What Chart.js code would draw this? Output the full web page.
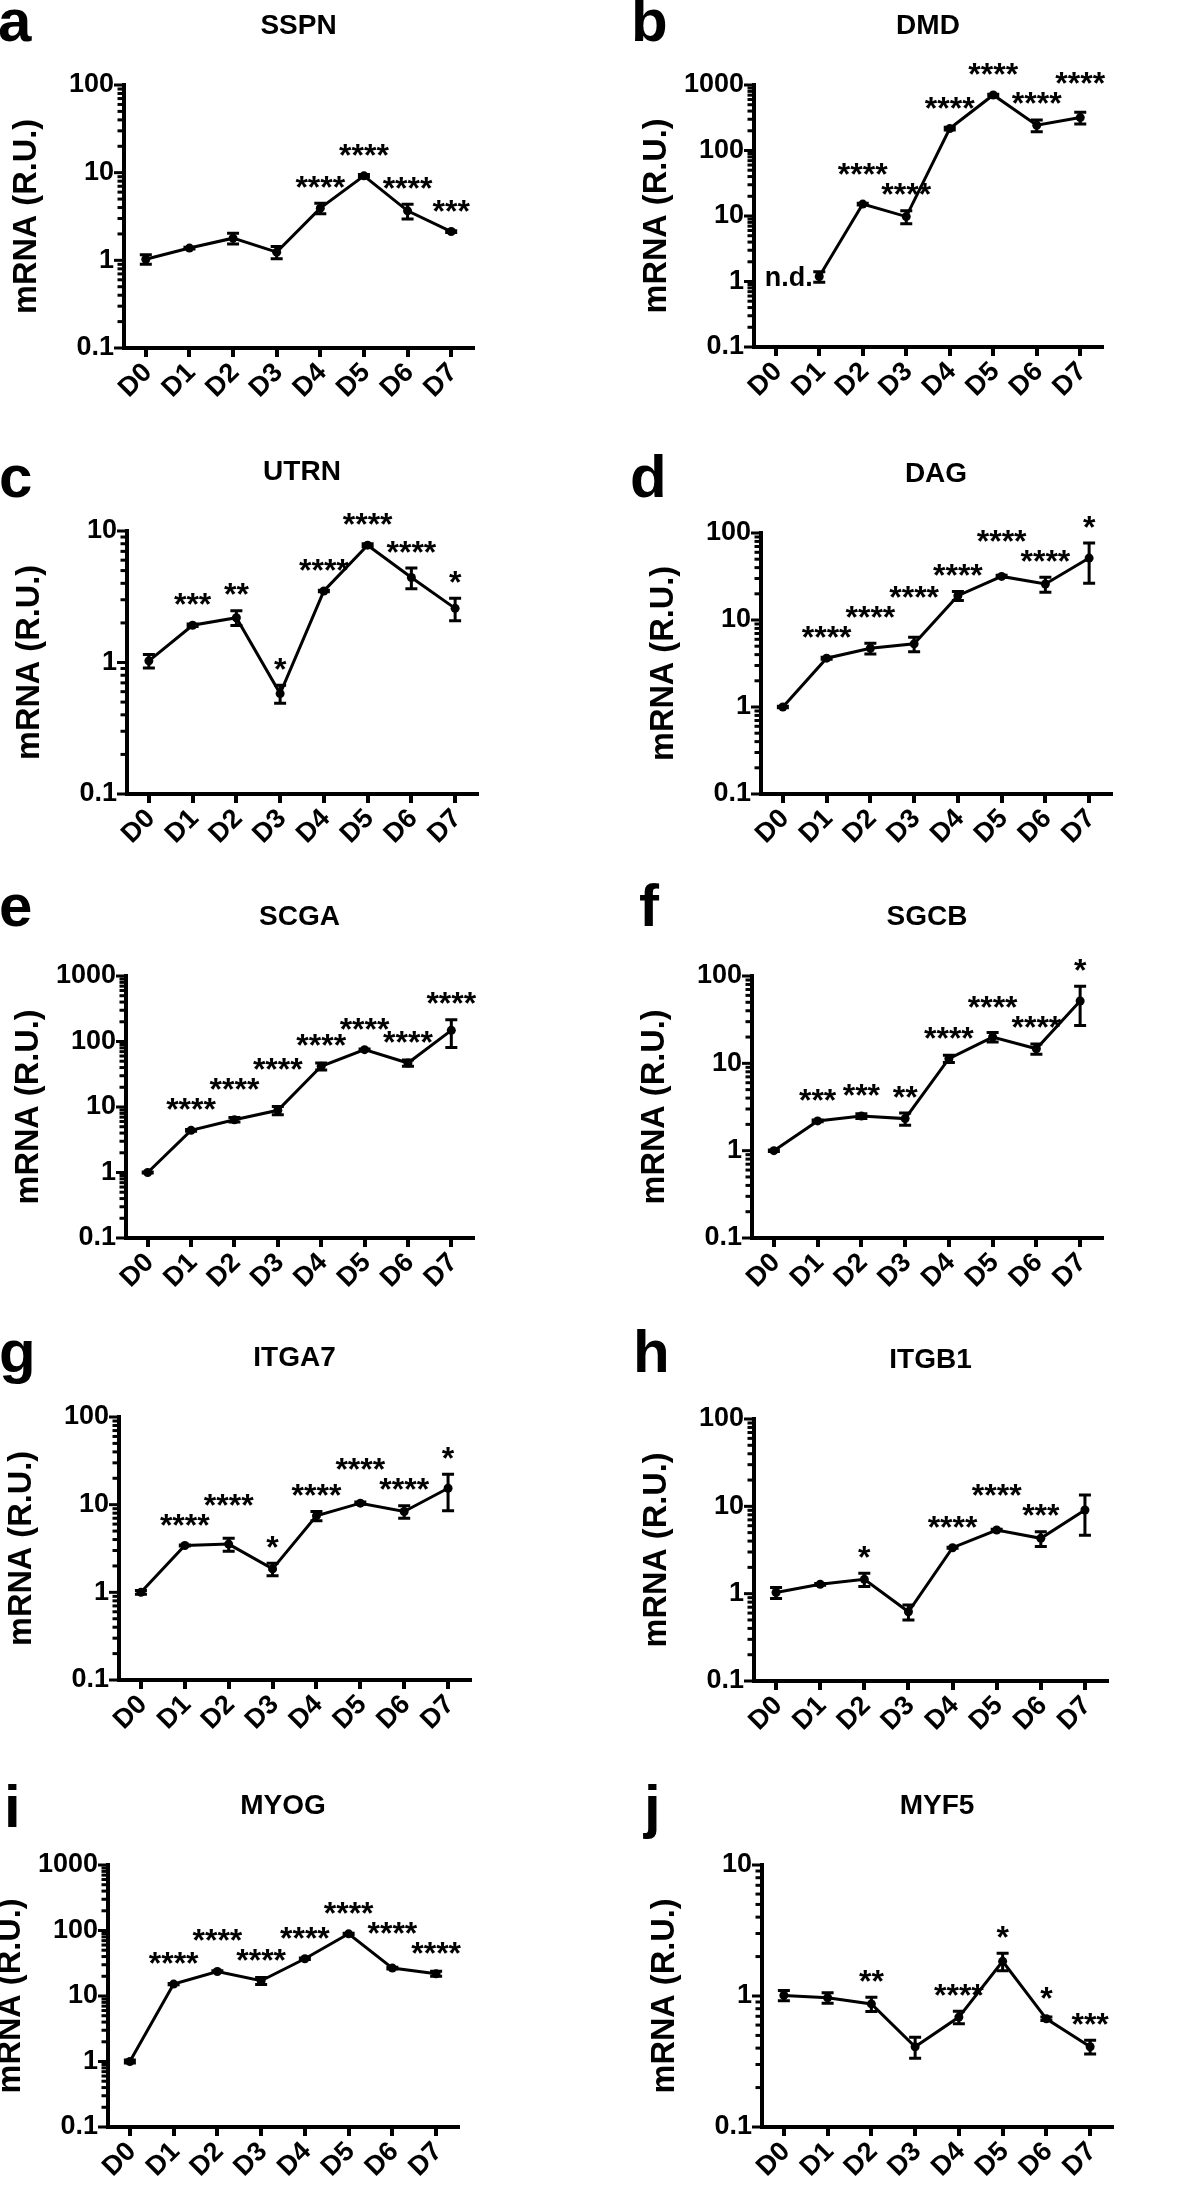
<!DOCTYPE html>
<html>
<head>
<meta charset="utf-8">
<script src="https://cdn.jsdelivr.net/npm/chart.js@4.4.1/dist/chart.umd.min.js"></script>
<style>
html, body { margin: 0; padding: 0; background: #fff; overflow: hidden; }
#fig { position: relative; width: 1181px; height: 2188px; background: #fff; }
#fig canvas { position: absolute; }
.plabel { position: absolute; font: bold 60px "Liberation Sans", Arial, sans-serif; line-height: 60px; color: #000; z-index: 5; }
</style>
</head>
<body>
<div id="fig"></div>
<script>
// ---------------- data ----------------
const days = ['D0', 'D1', 'D2', 'D3', 'D4', 'D5', 'D6', 'D7'];
const yTickLabels = ['0.1', '1', '10', '100', '1000'];

const sspnMean = [1.03, 1.38, 1.79, 1.24, 3.94, 9.2, 3.67, 2.13];
const sspnSem  = [0.13, 0.03, 0.25, 0.2, 0.55, 0.3, 0.7, 0.05];
const sspnSig  = ['', '', '', '', '****', '****', '****', '***'];

const dmdMean = [null, 1.19, 15.2, 9.8, 216, 704, 243, 318];
const dmdSem  = [0, 0.22, 0.5, 2.2, 10, 20, 50, 65];
const dmdSig  = ['', '', '****', '****', '****', '****', '****', '****'];

const utrnMean = [1.03, 1.92, 2.19, 0.58, 3.5, 7.8, 4.43, 2.58];
const utrnSem  = [0.12, 0.04, 0.28, 0.09, 0.05, 0.2, 0.8, 0.5];
const utrnSig  = ['', '***', '**', '*', '****', '****', '****', '*'];

const dagMean = [1.0, 3.64, 4.74, 5.32, 19.0, 31.7, 25.9, 51.5];
const dagSem  = [0.02, 0.1, 0.68, 1.0, 2.3, 1.0, 5.0, 25];
const dagSig  = ['', '****', '****', '****', '****', '****', '****', '*'];

const scgaMean = [1.0, 4.4, 6.4, 8.9, 41.8, 75, 47, 148];
const scgaSem  = [0.02, 0.15, 0.5, 1.3, 5, 2, 5, 67];
const scgaSig  = ['', '****', '****', '****', '****', '****', '****', '****'];

const sgcbMean = [1.0, 2.19, 2.49, 2.33, 11.3, 20, 14.7, 51.7];
const sgcbSem  = [0.02, 0.05, 0.15, 0.37, 1.1, 2.5, 2.0, 24.5];
const sgcbSig  = ['', '***', '***', '**', '****', '****', '****', '*'];

const itga7Mean = [1.0, 3.42, 3.55, 1.85, 7.46, 10.4, 8.36, 15.4];
const itga7Sem  = [0.05, 0.05, 0.6, 0.3, 0.9, 0.3, 1.35, 6.9];
const itga7Sig  = ['', '****', '****', '*', '****', '****', '****', '*'];

const itgb1Mean = [1.03, 1.28, 1.46, 0.62, 3.36, 5.36, 4.3, 9.08];
const itgb1Sem  = [0.15, 0.03, 0.25, 0.12, 0.05, 0.1, 0.83, 4.4];
const itgb1Sig  = ['', '', '*', '', '****', '****', '***', ''];

const myogMean = [1.0, 15.2, 23.7, 17.1, 37, 89, 26.7, 21.9];
const myogSem  = [0.05, 0.3, 0.5, 2.1, 1, 2, 0.8, 1.9];
const myogSig  = ['', '****', '****', '****', '****', '****', '****', '****'];

const myf5Mean = [1.01, 0.97, 0.87, 0.41, 0.69, 1.84, 0.67, 0.41];
const myf5Sem  = [0.09, 0.09, 0.11, 0.075, 0.075, 0.28, 0.02, 0.05];
const myf5Sig  = ['', '', '**', '', '****', '*', '*', '***'];

// ---------------- layout ----------------
const FONT = '"Liberation Sans", Arial, Helvetica, sans-serif';
const panels = [
  { letter: 'a', gene: 'SSPN',  mean: sspnMean,  sem: sspnSem,  sig: sspnSig,  yMax: 100,  col: 0, plot: [124, 473, 85, 348],  base: 42,   lx: -2 },
  { letter: 'b', gene: 'DMD',   mean: dmdMean,   sem: dmdSem,   sig: dmdSig,   yMax: 1000, col: 1, plot: [754, 1102, 85, 347], base: 42,   lx: 631, nd: true },
  { letter: 'c', gene: 'UTRN',  mean: utrnMean,  sem: utrnSem,  sig: utrnSig,  yMax: 10,   col: 0, plot: [127, 477, 531, 794], base: 498,  lx: -1 },
  { letter: 'd', gene: 'DAG',   mean: dagMean,   sem: dagSem,   sig: dagSig,   yMax: 100,  col: 1, plot: [761, 1111, 533, 794], base: 498, lx: 630 },
  { letter: 'e', gene: 'SCGA',  mean: scgaMean,  sem: scgaSem,  sig: scgaSig,  yMax: 1000, col: 0, plot: [126, 473, 976, 1238], base: 927, lx: -1 },
  { letter: 'f', gene: 'SGCB',  mean: sgcbMean,  sem: sgcbSem,  sig: sgcbSig,  yMax: 100,  col: 1, plot: [752, 1102, 976, 1238], base: 927, lx: 639 },
  { letter: 'g', gene: 'ITGA7', mean: itga7Mean, sem: itga7Sem, sig: itga7Sig, yMax: 100,  col: 0, plot: [119, 470, 1417, 1680], base: 1373, lx: -1 },
  { letter: 'h', gene: 'ITGB1', mean: itgb1Mean, sem: itgb1Sem, sig: itgb1Sig, yMax: 100,  col: 1, plot: [754, 1107, 1419, 1681], base: 1373, lx: 633 },
  { letter: 'i', gene: 'MYOG',  mean: myogMean,  sem: myogSem,  sig: myogSig,  yMax: 1000, col: 0, plot: [108, 458, 1865, 2127], base: 1828, lx: 4 },
  { letter: 'j', gene: 'MYF5',  mean: myf5Mean,  sem: myf5Sem,  sig: myf5Sig,  yMax: 10,   col: 1, plot: [762, 1112, 1865, 2127], base: 1828, lx: 644 }
];

function logTicks(max) {
  const out = [];
  for (let e = -1; Math.pow(10, e) < max - 1e-9; e++) {
    for (let k = 1; k <= 9; k++) out.push(Number((k * Math.pow(10, e)).toPrecision(6)));
  }
  out.push(max);
  return out;
}

const STAR_SIZE = 32;
const STAR_MIN_GAP = 12.5;   // min vertical separation of neighbouring star labels
const STAR_LIFT = 20;        // lift applied when they would collide

function starsOverlapX(a, b) {
  return Math.abs(a.x - b.x) < (a.w + b.w) / 2 + 1;
}

const annotPlugin = {
  id: 'annot',
  beforeDatasetsDraw(chart) {
    const p = chart.canvas._panel;
    const ctx = chart.ctx, xs = chart.scales.x, ys = chart.scales.y;
    ctx.save();
    ctx.strokeStyle = '#000';
    ctx.lineWidth = 3;
    p.mean.forEach((m, i) => {
      if (m == null || !p.sem[i]) return;
      const e = p.sem[i];
      const x = xs.getPixelForValue(i);
      const yt = ys.getPixelForValue(m + e);
      const yb = ys.getPixelForValue(Math.max(m - e, 0.1001));
      ctx.beginPath();
      ctx.moveTo(x, yt); ctx.lineTo(x, yb);
      ctx.moveTo(x - 6, yt); ctx.lineTo(x + 6, yt);
      ctx.moveTo(x - 6, yb); ctx.lineTo(x + 6, yb);
      ctx.stroke();
    });
    ctx.restore();
  },
  afterDraw(chart) {
    const p = chart.canvas._panel;
    const ctx = chart.ctx, xs = chart.scales.x, ys = chart.scales.y;
    const L = chart.chartArea.left;
    ctx.save();
    // y-axis log tick marks (major longer than minor)
    ctx.strokeStyle = '#000';
    ctx.lineWidth = 3;
    ys.ticks.forEach(t => {
      const lg = Math.log10(t.value);
      const major = Math.abs(lg - Math.round(lg)) < 1e-6;
      const y = ys.getPixelForValue(t.value);
      ctx.beginPath();
      ctx.moveTo(L, y);
      ctx.lineTo(L - (major ? 10 : 6.5), y);
      ctx.stroke();
    });
    // significance stars above the point / error bar
    ctx.fillStyle = '#000';
    ctx.font = 'bold ' + STAR_SIZE + 'px ' + FONT;
    ctx.textAlign = 'center';
    ctx.textBaseline = 'alphabetic';
    const items = [];
    p.sig.forEach((s, i) => {
      if (!s || p.mean[i] == null) return;
      const m = p.mean[i];
      const x = xs.getPixelForValue(i);
      const yPt = ys.getPixelForValue(m) - 4.5;
      const yErr = ys.getPixelForValue(m + (p.sem[i] || 0));
      items.push({ s, x, w: ctx.measureText(s).width, cy: Math.min(yPt, yErr) - 24, lifted: false });
    });
    // resolve collisions between neighbouring labels
    for (let k = 1; k < items.length; k++) {
      const a = items[k - 1], b = items[k];
      if (!starsOverlapX(a, b) || Math.abs(a.cy - b.cy) >= STAR_MIN_GAP) continue;
      let liftLeft = false;
      if (b.cy > a.cy && !a.lifted) {
        const cand = b.cy - STAR_LIFT;
        const z = items[k - 2];
        liftLeft = !(z && starsOverlapX(z, a) && Math.abs(z.cy - cand) < STAR_MIN_GAP);
        if (liftLeft) { a.cy = cand; a.lifted = true; }
      }
      if (!liftLeft) { b.cy = Math.min(b.cy, a.cy - STAR_LIFT); b.lifted = true; }
    }
    items.forEach(it => ctx.fillText(it.s, it.x, it.cy + 0.58 * STAR_SIZE));
    // not detected label
    if (p.nd) {
      ctx.font = 'bold 27px ' + FONT;
      ctx.textBaseline = 'middle';
      ctx.fillText('n.d.', xs.getPixelForValue(0) + 13, ys.getPixelForValue(1) - 3);
    }
    ctx.restore();
  }
};

const fig = document.getElementById('fig');

panels.forEach(p => {
  const colLeft = p.col ? 590 : 0;
  const colW = p.col ? 591 : 590;
  const [L, R, T, B] = p.plot;
  const top = T - 85;
  const xH = 62;
  const h = 85 + (B - T) + xH;

  const canvas = document.createElement('canvas');
  canvas.width = colW;
  canvas.height = h;
  canvas.style.left = colLeft + 'px';
  canvas.style.top = top + 'px';
  canvas.style.width = colW + 'px';
  canvas.style.height = h + 'px';
  canvas._panel = p;
  fig.appendChild(canvas);

  const lab = document.createElement('div');
  lab.className = 'plabel';
  lab.textContent = p.letter;
  lab.style.left = p.lx + 'px';
  lab.style.top = (p.base - 51) + 'px';
  fig.appendChild(lab);

  const ticksList = logTicks(p.yMax);
  const yTitleFont = 32.5;

  new Chart(canvas, {
    type: 'line',
    data: {
      labels: days,
      datasets: [{
        label: p.gene,
        data: p.mean,
        borderColor: '#000',
        backgroundColor: '#000',
        borderWidth: 3,
        pointRadius: 4.5,
        pointBackgroundColor: '#000',
        pointBorderColor: '#000',
        pointBorderWidth: 0,
        tension: 0,
        clip: false
      }]
    },
    options: {
      responsive: false,
      maintainAspectRatio: false,
      animation: false,
      devicePixelRatio: 1,
      layout: { padding: { left: 0, right: colLeft + colW - R, top: 0, bottom: 0 } },
      plugins: {
        legend: { display: false },
        tooltip: { enabled: false },
        title: {
          display: true,
          text: p.gene,
          fullSize: false,
          color: '#000',
          font: { family: FONT, size: 28, weight: 'bold', lineHeight: 1.2 },
          padding: { top: 9.2, bottom: 42.2 }
        }
      },
      scales: {
        x: {
          type: 'category',
          offset: true,
          grid: { display: true, drawOnChartArea: false, drawTicks: true, tickLength: 9, tickWidth: 4, tickColor: '#000', color: '#000', lineWidth: 4 },
          border: { display: true, color: '#000', width: 4 },
          ticks: { color: '#000', font: { family: FONT, size: 27, weight: 'bold' }, maxRotation: 45, minRotation: 45, autoSkip: false, padding: 0, labelOffset: 2 },
          afterFit: s => { s.height = xH; }
        },
        y: {
          type: 'logarithmic',
          min: 0.1,
          max: p.yMax,
          grid: { display: false, drawTicks: false },
          border: { display: true, color: '#000', width: 4 },
          ticks: {
            color: '#000',
            font: { family: FONT, size: 27, weight: 'bold' },
            padding: 10,
            autoSkip: false,
            callback: v => (yTickLabels.includes(String(v)) ? String(v) : '')
          },
          afterBuildTicks: s => { s.ticks = ticksList.map(v => ({ value: v })); },
          afterFit: s => { s.width = L - colLeft; },
          title: {
            display: true,
            text: 'mRNA (R.U.)',
            color: '#000',
            font: { family: FONT, size: yTitleFont, weight: 'bold', lineHeight: 1.2 },
            padding: { top: L - 97 - colLeft - yTitleFont * 0.6, bottom: 0 }
          }
        }
      }
    },
    plugins: [annotPlugin]
  });
});
</script>
</body>
</html>
